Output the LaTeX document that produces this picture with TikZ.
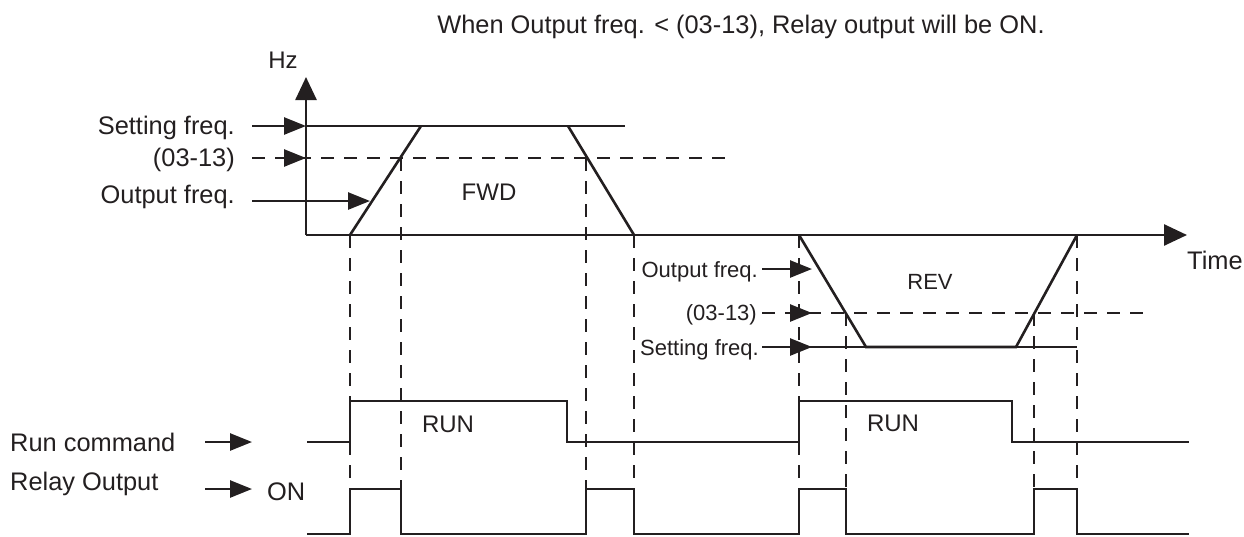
\documentclass[tikz,border=0pt]{standalone}
\usepackage{fontspec}
\setmainfont{Liberation Sans}
\usetikzlibrary{arrows.meta}
\definecolor{ink}{HTML}{231F20}
\begin{document}
\begin{tikzpicture}[x=1pt,y=-1pt,
  line/.style={draw=ink,line width=2.6pt},
  sig/.style={draw=ink,line width=2.4pt},
  dsh/.style={draw=ink,line width=2.4pt,dash pattern=on 13pt off 10pt},
  pt/.style={-{Triangle[length=22pt,width=17pt]}},
  axt/.style={-{Triangle[length=23pt,width=21pt]}},
  lbl/.style={inner sep=0pt,text=ink,font=\fontsize{25.4}{30}\selectfont},
  mlbl/.style={inner sep=0pt,text=ink,font=\fontsize{24}{28}\selectfont},
  sml/.style={inner sep=0pt,text=ink,font=\fontsize{22}{26}\selectfont},
]
\useasboundingbox (0,0) rectangle (1244,536);

% ---- key coordinates ----
\coordinate (O) at (306,235);
\coordinate (Ytop) at (306,77);
\coordinate (Xend) at (1187,235);

% ---- texts ----
\node[lbl,anchor=base] (title) at (741,33) {When Output freq. < (03-13), Relay output will be ON.};
\node[mlbl,anchor=base] (hz) at (283,68) {Hz};
\node[lbl,anchor=base west] (time) at (1187,269) {Time};
\node[lbl,anchor=base east] (lsf) at (235,134) {Setting freq.};
\node[lbl,anchor=base east] (lth) at (235,166) {(03-13)};
\node[lbl,anchor=base east] (lof) at (235,203) {Output freq.};
\node[mlbl,anchor=base] (fwd) at (489,200) {FWD};
\node[sml,anchor=base] (rev) at (930,289) {REV};
\node[sml,anchor=base east] (rof) at (758,277) {Output freq.};
\node[sml,anchor=base east] (rth) at (757,320) {(03-13)};
\node[sml,anchor=base east] (rsf) at (759,355) {Setting freq.};
\node[lbl,anchor=base west] (runc) at (10,451) {Run command};
\node[lbl,anchor=base west] (relo) at (10,490) {Relay Output};
\node[lbl,anchor=base west] (on) at (267,500) {ON};
\node[mlbl,anchor=base] (run1) at (448,432) {RUN};
\node[mlbl,anchor=base] (run2) at (893,431) {RUN};

% ---- dashed verticals ----
\draw[dsh] (350,235) -- (350,489);
\draw[dsh] (401,158) -- (401,489);
\draw[dsh] (586,158) -- (586,489);
\draw[dsh] (634,235) -- (634,489);
\draw[dsh] (799,235) -- (799,489);
\draw[dsh] (846,313) -- (846,489);
\draw[dsh] (1034,313) -- (1034,489);
\draw[dsh] (1077,235) -- (1077,489);

% ---- dashed thresholds ----
\draw[dsh] (252,158) -- (725,158);
\draw[dsh] (762,313) -- (1147,313);

% ---- axes ----
\draw[line,axt] (O) -- (Ytop);
\draw[line,axt] (O) -- (Xend);

% ---- forward frequency profile ----
\draw[line] (306,126) -- (625,126);
\draw[line] (350,235) -- (421,126);
\draw[line] (568,126) -- (634,235);

% ---- reverse frequency profile ----
\draw[line] (799,235) -- (866,347) -- (1016,347) -- (1077,235);
\draw[line] (762,347) -- (1077,347);

% ---- label arrows ----
\coordinate (a1s) at (252,126); \coordinate (a1e) at (306,126);
\coordinate (a2s) at (283,158); \coordinate (a2e) at (306,158);
\coordinate (a3s) at (252,201); \coordinate (a3e) at (370,201);
\coordinate (b1s) at (762,269); \coordinate (b1e) at (812,269);
\coordinate (b2s) at (789,313); \coordinate (b2e) at (812,313);
\coordinate (b3s) at (762,347); \coordinate (b3e) at (812,347);
\coordinate (c1s) at (205,442); \coordinate (c1e) at (252,442);
\coordinate (c2s) at (205,489); \coordinate (c2e) at (252,489);
\draw[line,pt] (a1s) -- (a1e);
\draw[line,pt] (a2s) -- (a2e);
\draw[line,pt] (a3s) -- (a3e);
\draw[line,pt] (b1s) -- (b1e);
\draw[line,pt] (b2s) -- (b2e);
\draw[line,pt] (b3s) -- (b3e);
\draw[line,pt] (c1s) -- (c1e);
\draw[line,pt] (c2s) -- (c2e);

% ---- run command ----
\draw[sig] (307,442) -- (350,442) -- (350,401) -- (567,401) -- (567,442)
  -- (799,442) -- (799,401) -- (1012,401) -- (1012,442) -- (1189,442);

% ---- relay output ----
\draw[sig] (307,534) -- (350,534) -- (350,489) -- (401,489) -- (401,534)
  -- (586,534) -- (586,489) -- (634,489) -- (634,534)
  -- (799,534) -- (799,489) -- (846,489) -- (846,534)
  -- (1034,534) -- (1034,489) -- (1077,489) -- (1077,534) -- (1189,534);
\end{tikzpicture}
\end{document}
